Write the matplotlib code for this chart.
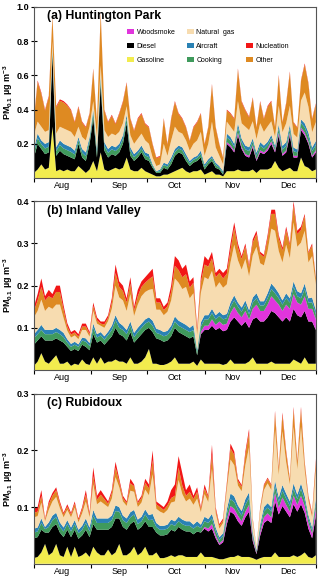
import numpy as np
import pandas as pd
import matplotlib
matplotlib.use('Agg')
import matplotlib.pyplot as plt
import matplotlib.dates as mdates
from matplotlib.patches import Patch

plt.rcParams['font.family'] = ['Liberation Sans', 'DejaVu Sans']
plt.rcParams['mathtext.fontset'] = 'custom'
plt.rcParams['mathtext.rm'] = 'Liberation Sans:bold'
plt.rcParams['mathtext.it'] = 'Liberation Sans:bold'
plt.rcParams['mathtext.default'] = 'rm'

# two-day samples, 1 Aug - 31 Dec
dates = pd.date_range('2012-08-01', periods=77, freq='2D')

sources = ['Gasoline', 'Diesel', 'Woodsmoke', 'Cooking', 'Aircraft',
           'Natural gas', 'Other', 'Nucleation']
colors = ['#f2ec4e', '#000000', '#e035dc', '#3f9a5c', '#2a82b4',
          '#f7dcb0', '#de8a22', '#f21616']

# ---- (a) Huntington Park ----
hp_gasoline = [.03, .05, .08, .05, .06, .30, .04, .05, .04, .05,
               .04, .04, .07, .05, .03, .05, .10, .04, .15, .05,
               .04, .05, .06, .05, .06, .12, .05, .04, .04, .06,
               .04, .03, .02, .01, .01, .02, .02, .03, .04, .05,
               .06, .04, .03, .04, .04, .05, .02, .03, .04, .02,
               .02, .01, .04, .04, .04, .05, .04, .04, .04, .05,
               .03, .05, .05, .05, .06, .10, .06, .04, .05, .06,
               .04, .04, .12, .07, .06, .04, .05]
hp_diesel = [.09, .15, .09, .09, .09, .42, .09, .11, .10, .08,
             .08, .07, .13, .07, .07, .15, .25, .08, .40, .11,
             .08, .09, .07, .10, .14, .20, .08, .06, .08, .09,
             .07, .07, .04, .02, .02, .04, .03, .05, .09, .10,
             .08, .06, .04, .05, .06, .07, .03, .05, .06, .04,
             .03, .01, .16, .14, .11, .20, .13, .09, .08, .13,
             .07, .10, .09, .11, .14, .05, .19, .09, .10, .19,
             .08, .08, .16, .18, .14, .08, .10]
hp_woodsmoke = [0] * 52 + [.010, .012, .010, .015, .012, .010, .010, .012, .008, .012,
                           .010, .012, .015, .010, .015, .010, .012, .015, .010, .010,
                           .015, .015, .012, .010, .012]
hp_cooking = [.028, .033, .028, .033, .033, .022, .028, .033, .033, .033,
              .033, .028, .022, .028, .028, .022, .028, .028, .028, .028,
              .028, .028, .028, .028, .028, .028, .028, .022, .022, .022,
              .022, .022, .011, .006, .011, .017, .017, .022, .022, .022,
              .022, .022, .017, .017, .017, .022, .017, .017, .017, .017,
              .011, .011, .028, .027, .022, .031, .027, .028, .028, .022,
              .022, .027, .022, .022, .020, .016, .026, .026, .026, .026,
              .027, .020, .026, .031, .031, .027, .031]
hp_aircraft = [.022, .027, .022, .027, .027, .018, .022, .027, .027, .027,
               .027, .022, .018, .022, .022, .018, .022, .022, .022, .022,
               .022, .022, .022, .022, .022, .022, .022, .018, .018, .018,
               .018, .018, .009, .004, .009, .013, .013, .018, .018, .018,
               .018, .018, .013, .013, .013, .018, .013, .013, .013, .013,
               .009, .009, .022, .021, .018, .024, .021, .022, .022, .018,
               .018, .021, .018, .018, .017, .014, .022, .022, .022, .022,
               .021, .017, .022, .024, .024, .021, .024]
hp_natgas = [.08, .07, .08, .07, .07, .04, .08, .08, .09, .09,
             .09, .08, .06, .07, .07, .06, .05, .07, .06, .07,
             .07, .07, .07, .07, .07, .05, .07, .06, .07, .07,
             .07, .06, .04, .03, .03, .11, .05, .10, .13, .08,
             .08, .08, .06, .08, .09, .11, .05, .09, .20, .09,
             .06, .04, .07, .06, .07, .13, .09, .11, .10, .10,
             .08, .11, .08, .09, .08, .05, .11, .08, .11, .11,
             .08, .07, .11, .18, .15, .09, .11]
hp_other = [.094, .232, .192, .124, .192, .144, .154, .152, .152, .144,
            .124, .085, .114, .085, .075, .075, .182, .085, .302, .114,
            .085, .104, .065, .104, .124, .134, .095, .075, .114, .114,
            .095, .095, .075, .046, .046, .144, .065, .124, .144, .105,
            .085, .075, .056, .095, .105, .105, .066, .095, .212, .115,
            .066, .037, .065, .075, .075, .182, .124, .095, .075, .134,
            .066, .124, .075, .114, .114, .056, .172, .056, .114, .192,
            .066, .056, .114, .162, .134, .075, .104]
hp_nucleation = [.006, .008, .008, .006, .008, .006, .006, .008, .008, .006,
                 .006, .005, .006, .005, .005, .005, .008, .005, .008, .006,
                 .005, .006, .005, .006, .006, .006, .005, .005, .006, .006,
                 .005, .005, .005, .004, .004, .006, .005, .006, .006, .005,
                 .005, .005, .004, .005, .005, .005, .004, .005, .008, .005,
                 .004, .003, .005, .005, .005, .008, .006, .005, .005, .006,
                 .004, .006, .005, .006, .006, .004, .008, .004, .006, .008,
                 .004, .004, .006, .008, .006, .005, .006]

# ---- (b) Inland Valley ----
iv_gasoline = [.01, .02, .04, .02, .015, .025, .035, .015, .015, .02,
               .01, .015, .012, .025, .015, .012, .03, .015, .03, .015,
               .02, .02, .025, .02, .02, .015, .03, .015, .015, .02,
               .03, .05, .015, .015, .012, .012, .015, .02, .03, .015,
               .015, .015, .015, .02, .01, .025, .015, .015, .015, .015,
               .015, .012, .015, .025, .015, .015, .015, .015, .02, .03,
               .015, .015, .015, .015, .02, .015, .015, .015, .015, .015,
               .025, .02, .015, .03, .015, .015, .015]
iv_diesel = [.05, .05, .04, .05, .055, .045, .04, .055, .05, .035,
             .035, .035, .033, .035, .04, .035, .055, .05, .04, .045,
             .05, .06, .075, .065, .06, .055, .06, .05, .06, .065,
             .065, .05, .075, .06, .06, .055, .055, .06, .07, .075,
             .07, .065, .06, .06, .025, .06, .08, .08, .09, .08,
             .085, .08, .08, .09, .11, .10, .09, .10, .08, .09,
             .11, .10, .10, .11, .12, .12, .11, .10, .11, .10,
             .12, .11, .11, .11, .10, .10, .08]
iv_woodsmoke = [0] * 45 + [.005, .01, .01, .015, .012, .015, .015, .015, .02, .025,
                           .02, .02, .025, .02, .025, .03, .025, .025, .03, .035,
                           .03, .03, .025, .03, .03, .035, .03, .03, .035, .03,
                           .03, .025]
iv_cooking = [.015, .015, .015, .015, .015, .015, .015, .015, .013, .01,
              .01, .01, .01, .01, .012, .01, .015, .012, .012, .012,
              .013, .015, .018, .015, .015, .015, .015, .013, .015, .015,
              .015, .015, .015, .013, .013, .013, .013, .015, .015, .015,
              .015, .015, .015, .015, .008, .013, .015, .015, .015, .013,
              .013, .013, .013, .015, .015, .015, .013, .015, .012, .015,
              .015, .013, .013, .015, .017, .017, .015, .015, .015, .015,
              .017, .015, .015, .017, .015, .015, .012]
iv_aircraft = [.01, .01, .012, .01, .01, .01, .01, .01, .01, .008,
               .007, .007, .006, .007, .008, .007, .01, .008, .008, .008,
               .008, .01, .012, .012, .01, .01, .01, .01, .01, .01,
               .01, .01, .012, .01, .01, .01, .01, .01, .012, .012,
               .012, .012, .01, .012, .005, .01, .01, .01, .01, .01,
               .01, .01, .01, .01, .012, .01, .01, .01, .01, .012,
               .012, .01, .01, .012, .013, .013, .012, .01, .012, .01,
               .013, .012, .012, .013, .01, .012, .01]
iv_natgas = [.04, .045, .06, .045, .055, .05, .055, .06, .035, .02,
             .015, .015, .012, .018, .02, .015, .03, .025, .015, .02,
             .025, .04, .07, .06, .06, .045, .065, .04, .055, .065,
             .065, .065, .075, .045, .048, .04, .045, .06, .09, .09,
             .08, .09, .07, .075, .035, .07, .09, .085, .09, .065,
             .07, .065, .07, .095, .12, .10, .09, .098, .08, .10,
             .11, .09, .085, .10, .13, .135, .10, .09, .115, .095,
             .14, .105, .12, .125, .085, .098, .06]
iv_other = [.015, .025, .03, .025, .025, .025, .03, .03, .02, .01,
            .007, .007, .006, .008, .008, .006, .012, .008, .005, .008,
            .008, .015, .03, .025, .022, .02, .025, .013, .02, .022,
            .022, .025, .03, .017, .017, .012, .013, .02, .03, .03,
            .028, .03, .025, .025, .01, .025, .03, .03, .03, .025,
            .022, .022, .025, .03, .04, .03, .025, .03, .022, .03,
            .03, .022, .02, .03, .035, .04, .03, .028, .035, .03,
            .04, .03, .03, .035, .022, .025, .015]
iv_nucleation = [.01, .015, .02, .01, .015, .01, .015, .015, .01, .008,
                 .006, .006, .006, .007, .007, .005, .008, .007, .005, .007,
                 .006, .01, .02, .013, .013, .01, .015, .009, .015, .013,
                 .013, .015, .018, .01, .01, .008, .009, .015, .023, .023,
                 .02, .023, .015, .013, .007, .012, .02, .015, .015, .01,
                 .01, .013, .012, .015, .013, .01, .007, .007, .006, .008,
                 .008, .005, .005, .008, .01, .01, .008, .007, .008, .005,
                 .01, .008, .008, .005, .003, .005, .003]

# ---- (c) Rubidoux ----
rb_gasoline = [.01, .012, .02, .035, .015, .02, .035, .015, .012, .03,
               .012, .03, .012, .015, .02, .012, .03, .02, .015, .015,
               .025, .015, .02, .035, .015, .015, .02, .03, .015, .02,
               .03, .015, .015, .02, .01, .01, .012, .015, .012, .015,
               .015, .012, .012, .012, .012, .02, .012, .012, .012, .01,
               .008, .008, .01, .012, .012, .015, .012, .012, .012, .01,
               .007, .01, .012, .012, .012, .02, .012, .012, .012, .012,
               .015, .012, .015, .02, .012, .01, .015]
rb_diesel = [.035, .035, .04, .02, .04, .045, .035, .04, .035, .03,
             .035, .03, .032, .035, .04, .035, .04, .04, .045, .045,
             .035, .05, .06, .045, .05, .045, .05, .045, .045, .045,
             .045, .05, .05, .035, .04, .04, .04, .045, .045, .05,
             .045, .045, .045, .04, .045, .035, .05, .045, .05, .035,
             .025, .03, .06, .08, .075, .06, .055, .07, .08, .03,
             .01, .04, .06, .065, .06, .09, .075, .09, .08, .07,
             .09, .08, .09, .07, .05, .035, .07]
rb_woodsmoke = [0] * 46 + [.003, .005, .008, .005, .003, .004, .008, .01, .01, .01,
                           .008, .01, .012, .005, .002, .006, .01, .012, .01, .015,
                           .012, .015, .012, .01, .015, .012, .015, .012, .01, .008,
                           .012]
rb_cooking = [.01, .01, .012, .006, .01, .012, .012, .01, .01, .01,
              .01, .01, .01, .01, .012, .01, .015, .012, .012, .012,
              .012, .012, .013, .012, .012, .012, .012, .012, .01, .01,
              .012, .012, .013, .01, .01, .01, .01, .01, .01, .01,
              .01, .01, .01, .01, .01, .008, .01, .01, .01, .008,
              .006, .007, .01, .012, .012, .01, .01, .012, .012, .006,
              .003, .008, .01, .01, .01, .012, .01, .012, .011, .01,
              .012, .01, .012, .01, .008, .006, .01]
rb_aircraft = [.007, .007, .008, .004, .008, .008, .008, .008, .007, .007,
               .007, .007, .006, .007, .008, .007, .01, .008, .008, .008,
               .008, .008, .01, .008, .008, .008, .009, .008, .008, .008,
               .009, .009, .01, .007, .007, .007, .007, .008, .008, .008,
               .008, .008, .008, .007, .008, .006, .008, .007, .008, .006,
               .005, .005, .008, .01, .01, .008, .008, .01, .01, .005,
               .002, .006, .008, .008, .008, .01, .008, .01, .009, .008,
               .01, .008, .01, .008, .006, .005, .008]
rb_natgas = [.02, .02, .028, .01, .022, .025, .028, .025, .018, .018,
             .018, .022, .013, .022, .03, .018, .045, .025, .03, .025,
             .02, .03, .05, .035, .025, .022, .038, .032, .022, .025,
             .035, .035, .07, .025, .025, .022, .026, .03, .035, .065,
             .045, .035, .04, .035, .04, .022, .04, .03, .08, .025,
             .015, .018, .035, .06, .055, .035, .035, .06, .08, .018,
             .005, .023, .03, .035, .03, .09, .04, .095, .055, .03,
             .10, .045, .10, .045, .025, .018, .05]
rb_other = [.008, .008, .012, .003, .01, .01, .012, .008, .005, .006,
            .005, .007, .004, .007, .012, .005, .015, .008, .012, .009,
            .006, .01, .017, .01, .006, .005, .013, .01, .007, .008,
            .012, .012, .025, .008, .008, .006, .008, .008, .01, .022,
            .015, .01, .012, .01, .012, .006, .01, .008, .025, .007,
            .005, .005, .008, .02, .018, .008, .008, .018, .025, .004,
            .001, .005, .008, .008, .008, .028, .01, .028, .017, .008,
            .03, .012, .03, .012, .006, .005, .015]
rb_nucleation = [.01, .008, .01, .002, .005, .005, .005, .004, .003, .004,
                 .003, .004, .003, .004, .008, .003, .015, .007, .008, .006,
                 .004, .005, .01, .005, .004, .003, .008, .003, .003, .004,
                 .007, .007, .017, .005, .005, .005, .007, .014, .02, .02,
                 .022, .01, .013, .006, .008, .003, .007, .003, .017, .004,
                 .003, .003, .004, .008, .006, .004, .003, .006, .007, .002,
                 0, .002, .002, .002, .002, .005, .003, .005, .004, .002,
                 .005, .003, .005, .003, .003, .003, .005]

panels = [
    ('(a) Huntington Park',
     [hp_gasoline, hp_diesel, hp_woodsmoke, hp_cooking, hp_aircraft,
      hp_natgas, hp_other, hp_nucleation],
     1.0, [0.2, 0.4, 0.6, 0.8, 1.0]),
    ('(b) Inland Valley',
     [iv_gasoline, iv_diesel, iv_woodsmoke, iv_cooking, iv_aircraft,
      iv_natgas, iv_other, iv_nucleation],
     0.4, [0.1, 0.2, 0.3, 0.4]),
    ('(c) Rubidoux',
     [rb_gasoline, rb_diesel, rb_woodsmoke, rb_cooking, rb_aircraft,
      rb_natgas, rb_other, rb_nucleation],
     0.3, [0.1, 0.2, 0.3]),
]

fig = plt.figure(figsize=(3.2, 5.8), dpi=100)
boxes = [[0.106, 0.693, 0.881, 0.295],
         [0.106, 0.362, 0.881, 0.291],
         [0.106, 0.028, 0.881, 0.293]]

month_starts = pd.date_range('2012-08-01', '2012-12-01', freq='MS')
month_ticks = list(month_starts) + [dates[-1]]
mid_ticks = month_starts + pd.Timedelta(days=15)

for (title, series, ytop, yt), box in zip(panels, boxes):
    ax = fig.add_axes(box)
    ax.stackplot(dates, np.array(series), colors=colors, linewidth=0)
    ax.set_xlim(dates[0], dates[-1])
    ax.set_ylim(0, ytop)
    ax.set_yticks(yt)
    ax.set_yticklabels(['%.1f' % v for v in yt], fontweight='bold')
    ax.tick_params(axis='y', direction='inout', length=5, width=0.8,
                   labelsize=6.5, pad=1)
    ax.set_xticks(month_ticks)
    ax.set_xticklabels([])
    ax.set_xticks(mid_ticks, minor=True)
    ax.xaxis.set_minor_formatter(mdates.DateFormatter('%b'))
    ax.tick_params(axis='x', which='major', direction='out', length=3,
                   width=0.8)
    ax.tick_params(axis='x', which='minor', length=0, labelsize=6.5, pad=2)
    for s in ax.spines.values():
        s.set_color('#555555')
        s.set_linewidth(0.8)
    ax.set_ylabel('PM$_{0.1}$ µg m$^{-3}$', fontsize=6.5, fontweight='bold',
                  labelpad=1)
    ax.text(0.045, 0.945, title, transform=ax.transAxes, fontsize=8.8,
            fontweight='bold', va='center', ha='left')
    if title.startswith('(a)'):
        handles = [Patch(facecolor=colors[2], label='Woodsmoke'),
                   Patch(facecolor=colors[1], label='Diesel'),
                   Patch(facecolor=colors[0], label='Gasoline'),
                   Patch(facecolor=colors[5], label='Natural  gas'),
                   Patch(facecolor=colors[4], label='Aircraft'),
                   Patch(facecolor=colors[3], label='Cooking'),
                   Patch(facecolor='none', edgecolor='none', label=' '),
                   Patch(facecolor=colors[7], label='Nucleation'),
                   Patch(facecolor=colors[6], label='Other')]
        ax.legend(handles=handles, ncol=3, loc='upper left',
                  bbox_to_anchor=(0.33, 0.87), frameon=False, fontsize=5,
                  handlelength=1.0, handleheight=0.75, handletextpad=0.4,
                  columnspacing=1.6, labelspacing=1.0, borderpad=0,
                  borderaxespad=0)

fig.savefig('out.png', dpi=100)
